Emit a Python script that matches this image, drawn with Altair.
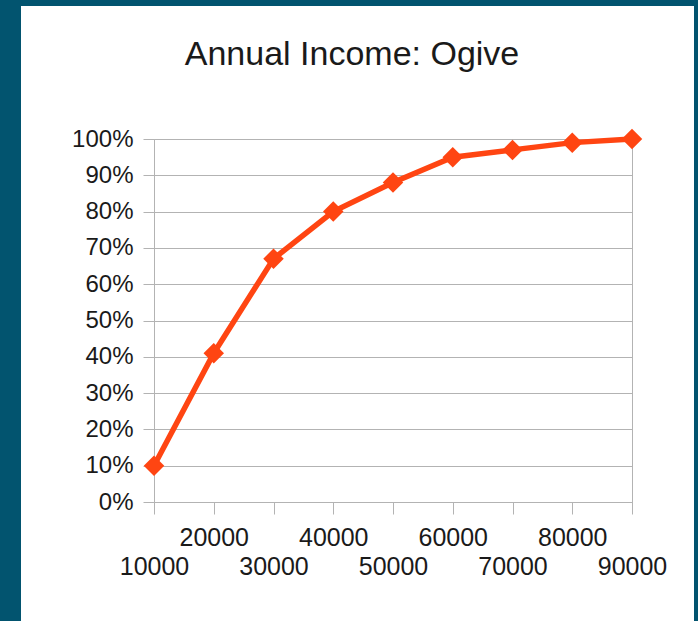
import altair as alt
import pandas as pd

# Cumulative share of households at or below each income level
income = [10000, 20000, 30000, 40000, 50000, 60000, 70000, 80000, 90000]
cumulative = [0.10, 0.41, 0.67, 0.80, 0.88, 0.95, 0.97, 0.99, 1.00]
y_ticks = [0.0, 0.1, 0.2, 0.3, 0.4, 0.5, 0.6, 0.7, 0.8, 0.9, 1.0]
title_text = "Annual Income: Ogive"

W, H = 478, 363
PAD_L, PAD_T = 154, 139
FONT = "Liberation Sans"
GRID = "#b3b3b3"
LINE = "#ff4512"
FRAME = "#02546f"

df = pd.DataFrame({"income": income, "share": cumulative})

# dark slide frame strips around the white page (left, top, right)
frame_src = pd.DataFrame({"a": [0]})
frame_left = alt.Chart(frame_src).mark_rect(color=FRAME).encode(
    x=alt.value(-PAD_L), x2=alt.value(21 - PAD_L),
    y=alt.value(-PAD_T), y2=alt.value(621 - PAD_T),
)
frame_top = alt.Chart(frame_src).mark_rect(color=FRAME).encode(
    x=alt.value(-PAD_L), x2=alt.value(698 - PAD_L),
    y=alt.value(-PAD_T), y2=alt.value(6 - PAD_T),
)
frame_right = alt.Chart(frame_src).mark_rect(color=FRAME).encode(
    x=alt.value(694 - PAD_L), x2=alt.value(698 - PAD_L),
    y=alt.value(-PAD_T), y2=alt.value(621 - PAD_T),
)

x_enc = alt.X(
    "income:Q",
    scale=alt.Scale(domain=[10000, 90000], nice=False, zero=False),
    axis=alt.Axis(
        values=income, title=None, grid=False, format="d",
        domainColor=GRID, tickColor=GRID, tickSize=12,
        labelFont=FONT, labelFontSize=25, labelColor="#1a1a1a",
        labelPadding={"condition": {"test": "datum.value % 20000 == 0", "value": 11}, "value": 40},
        labelOverlap=False, labelFlush=False,
    ),
)
y_enc = alt.Y(
    "share:Q",
    scale=alt.Scale(domain=[0, 1], nice=False),
    axis=alt.Axis(
        values=y_ticks, format=".0%", title=None,
        gridColor=GRID, domainColor=GRID, tickColor=GRID, tickSize=11,
        labelFont=FONT, labelFontSize=24, labelColor="#1a1a1a", labelPadding=10,
        labelOverlap=False, labelFlush=False,
    ),
)

line = alt.Chart(df).mark_line(color=LINE, strokeWidth=5.5).encode(x=x_enc, y=y_enc)
points = alt.Chart(df).mark_point(
    shape="diamond", filled=True, color=LINE, size=420, opacity=1
).encode(x=x_enc, y=y_enc)

title = alt.Chart(pd.DataFrame({"t": [title_text]})).mark_text(
    font=FONT, fontSize=34, color="#1a1a1a", align="center", baseline="alphabetic"
).encode(text="t:N", x=alt.value(352 - PAD_L), y=alt.value(65 - PAD_T))

chart = alt.layer(line, points, title, frame_left, frame_top, frame_right).properties(
    width=W, height=H,
    autosize=alt.AutoSizeParams(type="none"),
    padding={"left": PAD_L, "top": PAD_T, "right": 698 - PAD_L - W, "bottom": 621 - PAD_T - H},
    background="white",
).configure_view(stroke=GRID, strokeWidth=1)

chart.save("out.html", embed_options={"renderer": "svg", "actions": False})
